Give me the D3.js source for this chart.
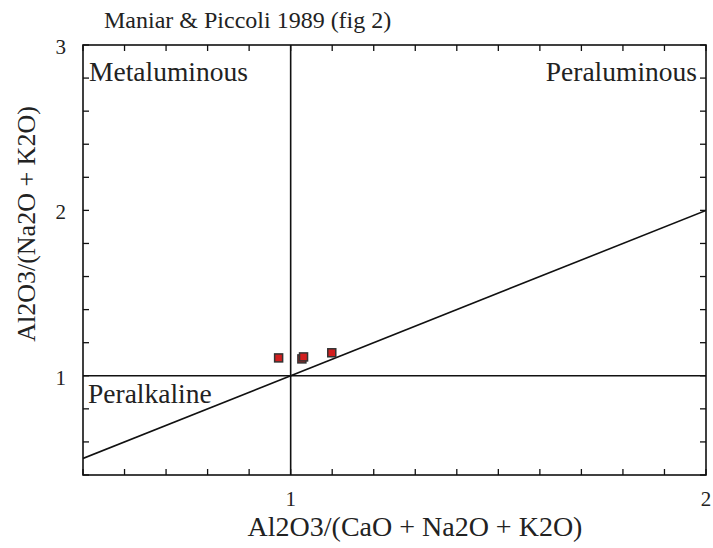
<!DOCTYPE html>
<html lang="en">
<head>
<meta charset="UTF-8">
<script src="https://cdn.jsdelivr.net/npm/d3@7"></script>
<style>
  body { margin: 0; background: #fff; }
  text { font-family: 'Liberation Serif', 'Times New Roman', serif; fill: #222; }
</style>
</head>
<body>
<svg id="chart" width="713" height="548"></svg>
<script>
// sample points (A/CNK, A/NK)
const acnk = [0.971, 1.027, 1.031, 1.099];
const ank = [1.108, 1.102, 1.114, 1.139];

const xTicks = [1, 2];
const yTicks = [1, 2, 3];
const regionLabels = ["Metaluminous", "Peraluminous", "Peralkaline"];

const svg = d3.select('#chart');
const mLeft = 83, mRight = 706, mTop = 45, mBottom = 475;

const x = d3.scaleLinear().domain([0.5, 2]).range([mLeft, mRight]);
const y = d3.scaleLinear().domain([0.4, 3]).range([mBottom, mTop]);

svg.append('clipPath').attr('id', 'plot')
  .append('rect').attr('x', mLeft).attr('y', mTop)
  .attr('width', mRight - mLeft).attr('height', mBottom - mTop);

// minor ticks, pointing inward on all four sides
const xMinor = d3.range(5, 21).map(d => d / 10);
const yMinor = d3.range(2, 16).map(d => d / 5);
const tickLen = 6;
const g = svg.append('g').attr('stroke', '#111').attr('stroke-width', 1.3);
xMinor.forEach(v => {
  g.append('line').attr('x1', x(v)).attr('x2', x(v)).attr('y1', mBottom).attr('y2', mBottom - tickLen);
  g.append('line').attr('x1', x(v)).attr('x2', x(v)).attr('y1', mTop).attr('y2', mTop + tickLen);
});
yMinor.forEach(v => {
  g.append('line').attr('y1', y(v)).attr('y2', y(v)).attr('x1', mLeft).attr('x2', mLeft + tickLen);
  g.append('line').attr('y1', y(v)).attr('y2', y(v)).attr('x1', mRight).attr('x2', mRight - tickLen);
});

// field boundaries
const lines = svg.append('g').attr('clip-path', 'url(#plot)')
  .attr('stroke', '#111').attr('stroke-width', 1.6).attr('fill', 'none');
lines.append('line').attr('x1', x(1)).attr('x2', x(1)).attr('y1', y(0.4)).attr('y2', y(3));
lines.append('line').attr('x1', x(0.5)).attr('x2', x(2)).attr('y1', y(1)).attr('y2', y(1));
lines.append('line').attr('x1', x(0.5)).attr('x2', x(2)).attr('y1', y(0.5)).attr('y2', y(2));

// frame
svg.append('rect').attr('x', mLeft).attr('y', mTop)
  .attr('width', mRight - mLeft).attr('height', mBottom - mTop)
  .attr('fill', 'none').attr('stroke', '#111').attr('stroke-width', 1.6);

// tick labels
svg.selectAll('.xt').data(xTicks).join('text')
  .attr('x', d => x(d)).attr('y', mBottom + 31)
  .attr('text-anchor', 'middle').attr('font-size', 21).text(d => d);
svg.selectAll('.yt').data(yTicks).join('text')
  .attr('x', mLeft - 17).attr('y', d => y(d) + 9)
  .attr('text-anchor', 'end').attr('font-size', 21).text(d => d);

// region labels
svg.append('text').attr('x', 89).attr('y', 81).attr('font-size', 27.5).text(regionLabels[0]);
svg.append('text').attr('x', 697).attr('y', 81).attr('text-anchor', 'end').attr('font-size', 27.5).text(regionLabels[1]);
svg.append('text').attr('x', 88).attr('y', 403).attr('font-size', 27.5).text(regionLabels[2]);

// title and axis titles
svg.append('text').attr('x', 104).attr('y', 28).attr('font-size', 24).text('Maniar & Piccoli 1989 (fig 2)');
svg.append('text').attr('x', 415).attr('y', 536).attr('text-anchor', 'middle').attr('font-size', 28)
  .text('Al2O3/(CaO + Na2O + K2O)');
svg.append('text').attr('transform', 'translate(35,224) rotate(-90)')
  .attr('text-anchor', 'middle').attr('font-size', 26).text('Al2O3/(Na2O + K2O)');

// samples
const s = 8;
svg.append('g').selectAll('rect').data(acnk).join('rect')
  .attr('x', d => x(d) - s / 2).attr('y', (d, i) => y(ank[i]) - s / 2)
  .attr('width', s).attr('height', s)
  .attr('fill', '#d21f1f').attr('stroke', '#333').attr('stroke-width', 1.5);
</script>
</body>
</html>
